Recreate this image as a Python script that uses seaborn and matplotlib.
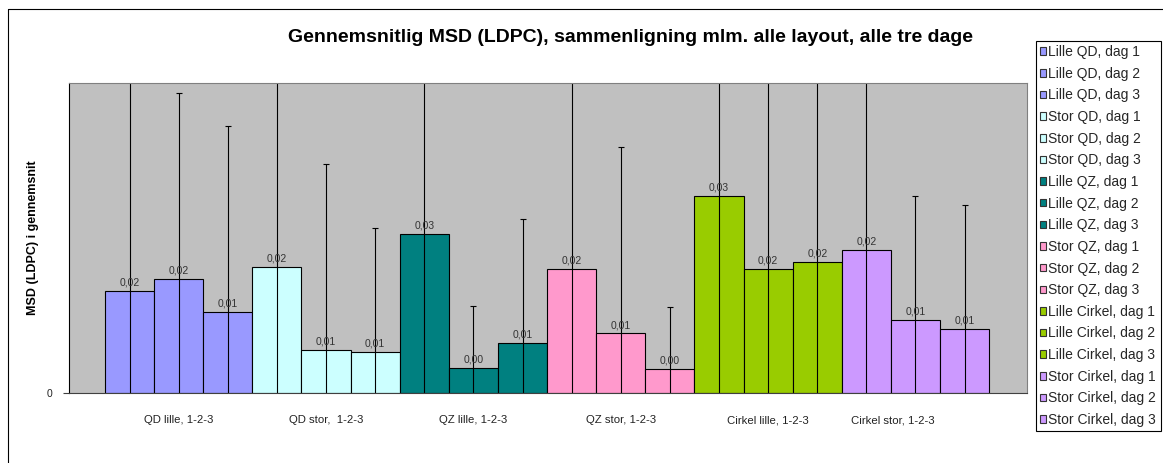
import numpy as np
import pandas as pd
import matplotlib
matplotlib.use("Agg")
import matplotlib.pyplot as plt
from matplotlib.patches import Patch
from matplotlib.lines import Line2D
import seaborn as sns

groups = ["QD lille, 1-2-3", "QD stor,  1-2-3", "QZ lille, 1-2-3",
          "QZ stor, 1-2-3", "Cirkel lille, 1-2-3", "Cirkel stor, 1-2-3"]
series = ["Lille QD, dag 1", "Lille QD, dag 2", "Lille QD, dag 3",
          "Stor QD, dag 1", "Stor QD, dag 2", "Stor QD, dag 3",
          "Lille QZ, dag 1", "Lille QZ, dag 2", "Lille QZ, dag 3",
          "Stor QZ, dag 1", "Stor QZ, dag 2", "Stor QZ, dag 3",
          "Lille Cirkel, dag 1", "Lille Cirkel, dag 2", "Lille Cirkel, dag 3",
          "Stor Cirkel, dag 1", "Stor Cirkel, dag 2", "Stor Cirkel, dag 3"]
msd = [0.0165, 0.0184, 0.0130,
       0.0203, 0.0069, 0.0066,
       0.0256, 0.0041, 0.0081,
       0.0200, 0.0096, 0.0038,
       0.0318, 0.0200, 0.0212,
       0.0231, 0.0118, 0.0103]
err = [0.04, 0.03, 0.03,
       0.04, 0.03, 0.02,
       0.03, 0.01, 0.02,
       0.04, 0.03, 0.01,
       0.04, 0.04, 0.04,
       0.03, 0.02, 0.02]
layout_colors = ["#9999FF", "#CCFFFF", "#008080", "#FF99CC", "#99CC00", "#CC99FF"]

colors = [c for c in layout_colors for _ in range(3)]
df = pd.DataFrame({"series": series, "msd": msd, "err": err})

sns.set_theme(style="white")
plt.rcParams["font.family"] = ["Liberation Sans", "DejaVu Sans"]

W, H = 1163, 463
fig = plt.figure(figsize=(W / 100, H / 100), dpi=100)
ax = fig.add_axes([69 / W, 1 - 393 / H, (1027 - 69) / W, (393 - 83) / H])
ax.set_facecolor("#C0C0C0")

sns.barplot(data=df, x="series", y="msd", hue="series", order=series,
            palette=colors, dodge=False, width=1.0, edgecolor="black",
            linewidth=0.8, saturation=1, legend=False, ax=ax)

xs = np.arange(len(series))
ax.errorbar(xs, df["msd"], yerr=df["err"], fmt="none", ecolor="black",
            elinewidth=0.8, capsize=2.5, capthick=0.8)

for x, v in zip(xs, df["msd"]):
    ax.annotate(f"{v:.2f}".replace(".", ","), (x, v), xytext=(0, 2.5),
                textcoords="offset points", ha="center", va="bottom",
                fontsize=7.5, color="#333333")

ax.set_ylim(0, 0.05)
ax.set_xlim(-1.233, 18.27)

# group labels under the middle bar of each layout
label_shift = [0, 0, 0, 0, 0, -0.47]
ax.set_xticks([3 * i + 1 + s for i, s in enumerate(label_shift)])
ax.set_xticklabels(groups, fontsize=8.2, color="#222222")
ax.tick_params(axis="x", length=0, pad=16)
ax.set_yticks([0])
ax.set_yticklabels(["0"], fontsize=7.5, color="#222222")
ax.tick_params(axis="y", length=4, width=0.8, color="#404040", pad=8, left=True)
ax.set_xlabel("")
ax.set_ylabel("")

for side in ["top", "right"]:
    ax.spines[side].set_color("#808080")
    ax.spines[side].set_linewidth(0.8)
ax.spines["left"].set_color("black")
ax.spines["left"].set_linewidth(0.8)
ax.spines["bottom"].set_color("#404040")
ax.spines["bottom"].set_linewidth(0.8)

fig.text(630 / W, 1 - 37 / H,
         "Gennemsnitlig MSD (LDPC), sammenligning mlm. alle layout, alle tre dage",
         ha="center", va="center", fontsize=14, fontweight="bold", color="black")
fig.text(33 / W, 1 - 238 / H, "MSD (LDPC) i gennemsnit", rotation=90,
         ha="center", va="center", fontsize=9, fontweight="bold", color="black")

handles = [Patch(facecolor=c, edgecolor="#333333", linewidth=0.8) for c in colors]
leg = fig.legend(handles, series, loc="upper left",
                 bbox_to_anchor=(1036 / W, 1 - 41 / H), borderaxespad=0,
                 fontsize=10, handlelength=0.45, handleheight=0.45,
                 handletextpad=0.15, labelspacing=0.55, borderpad=0.3,
                 fancybox=False, framealpha=1, edgecolor="black")
leg.get_frame().set_linewidth(0.8)

# chart area border (left and top edges)
fig.add_artist(Line2D([8 / W, 8 / W], [0, 1 - 9 / H], color="black", linewidth=0.8))
fig.add_artist(Line2D([8 / W, 1], [1 - 9 / H, 1 - 9 / H], color="black", linewidth=0.8))

fig.savefig("out.png", dpi=100, facecolor="white")
